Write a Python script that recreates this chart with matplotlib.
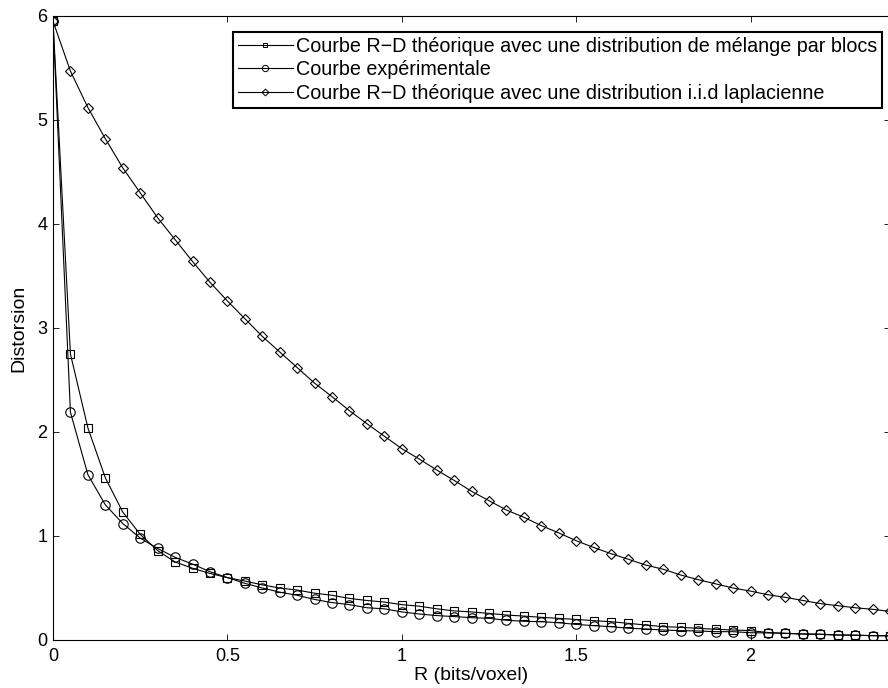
import matplotlib
matplotlib.use("Agg")
import matplotlib.pyplot as plt
from matplotlib.lines import Line2D

plt.rcParams['font.family'] = ['Liberation Sans', 'DejaVu Sans']

rate = [0.00, 0.05, 0.10, 0.15, 0.20, 0.25, 0.30, 0.35, 0.40, 0.45,
        0.50, 0.55, 0.60, 0.65, 0.70, 0.75, 0.80, 0.85, 0.90, 0.95,
        1.00, 1.05, 1.10, 1.15, 1.20, 1.25, 1.30, 1.35, 1.40, 1.45,
        1.50, 1.55, 1.60, 1.65, 1.70, 1.75, 1.80, 1.85, 1.90, 1.95,
        2.00, 2.05, 2.10, 2.15, 2.20, 2.25, 2.30, 2.35, 2.40]

d_blocs = [5.95, 2.75, 2.04, 1.56, 1.23, 1.016, 0.86, 0.75, 0.69, 0.64,
           0.60, 0.567, 0.53, 0.50, 0.48, 0.45, 0.43, 0.40, 0.38, 0.365,
           0.34, 0.325, 0.30, 0.28, 0.27, 0.256, 0.24, 0.23, 0.218, 0.208,
           0.198, 0.186, 0.176, 0.16, 0.144, 0.128, 0.122, 0.112, 0.103, 0.096,
           0.09, 0.072, 0.064, 0.058, 0.055, 0.048, 0.046, 0.042, 0.04]

d_exp = [5.95, 2.19, 1.59, 1.30, 1.12, 0.98, 0.88, 0.795, 0.73, 0.657,
         0.60, 0.545, 0.50, 0.46, 0.43, 0.39, 0.36, 0.34, 0.31, 0.30,
         0.27, 0.25, 0.235, 0.225, 0.215, 0.208, 0.19, 0.18, 0.176, 0.166,
         0.15, 0.138, 0.128, 0.113, 0.106, 0.096, 0.09, 0.087, 0.08, 0.08,
         0.07, 0.068, 0.064, 0.058, 0.055, 0.048, 0.046, 0.042, 0.04]

d_iid = [5.95, 5.47, 5.12, 4.82, 4.54, 4.30, 4.06, 3.85, 3.64, 3.44,
         3.26, 3.09, 2.92, 2.77, 2.62, 2.47, 2.34, 2.205, 2.08, 1.96,
         1.84, 1.74, 1.635, 1.535, 1.43, 1.34, 1.25, 1.18, 1.10, 1.03,
         0.955, 0.89, 0.83, 0.776, 0.72, 0.68, 0.625, 0.58, 0.54, 0.50,
         0.47, 0.435, 0.41, 0.38, 0.35, 0.33, 0.31, 0.295, 0.275]

labels = ["Courbe R\u2212D théorique avec une distribution de mélange par blocs",
          "Courbe expérimentale",
          "Courbe R\u2212D théorique avec une distribution i.i.d laplacienne"]

xticks = [0, 0.5, 1, 1.5, 2]
xticklabels = ['0', '0.5', '1', '1.5', '2']
yticks = [0, 1, 2, 3, 4, 5, 6]

W, H = 888, 688
fig = plt.figure(figsize=(W / 100, H / 100), dpi=100)
ax = fig.add_axes([53 / W, 48 / H, (890 - 53) / W, (640 - 16) / H])

lw = 0.8
ax.plot(rate, d_blocs, color='black', lw=lw, marker='s', ms=5.2,
        mfc='none', mec='black', mew=0.8)
ax.plot(rate, d_exp, color='black', lw=lw, marker='o', ms=6.8,
        mfc='none', mec='black', mew=0.8)
ax.plot(rate, d_iid, color='black', lw=lw, marker='D', ms=5.2,
        mfc='none', mec='black', mew=0.8)

ax.set_xlim(0, 2.4)
ax.set_ylim(0, 6)
ax.set_xticks(xticks)
ax.set_xticklabels(xticklabels)
ax.set_yticks(yticks)
ax.tick_params(direction='in', top=True, right=True, length=4, width=0.6,
               labelsize=13, colors='black')
ax.tick_params(axis='x', pad=6)
ax.tick_params(axis='y', pad=4)
for s in ax.spines.values():
    s.set_linewidth(0.8)
    s.set_color('black')

ax.set_xlabel("R (bits/voxel)", fontsize=14, labelpad=1)
ax.set_ylabel("Distorsion", fontsize=14, labelpad=7)

handles = [
    Line2D([], [], color='black', lw=lw, marker='s', ms=3.5, mfc='none', mew=0.7),
    Line2D([], [], color='black', lw=lw, marker='o', ms=4.5, mfc='none', mew=0.7),
    Line2D([], [], color='black', lw=lw, marker='D', ms=3.5, mfc='none', mew=0.7),
]
leg = ax.legend(handles, labels, loc='upper right',
                bbox_to_anchor=(882 / W, (H - 32) / H),
                bbox_transform=fig.transFigure, borderaxespad=0,
                fontsize=14.2, frameon=True, fancybox=False, framealpha=1,
                edgecolor='black', handlelength=2.8, handletextpad=0.15,
                labelspacing=0.22, borderpad=0.25)
leg.get_frame().set_linewidth(1.5)

fig.savefig("out.png", dpi=100)
